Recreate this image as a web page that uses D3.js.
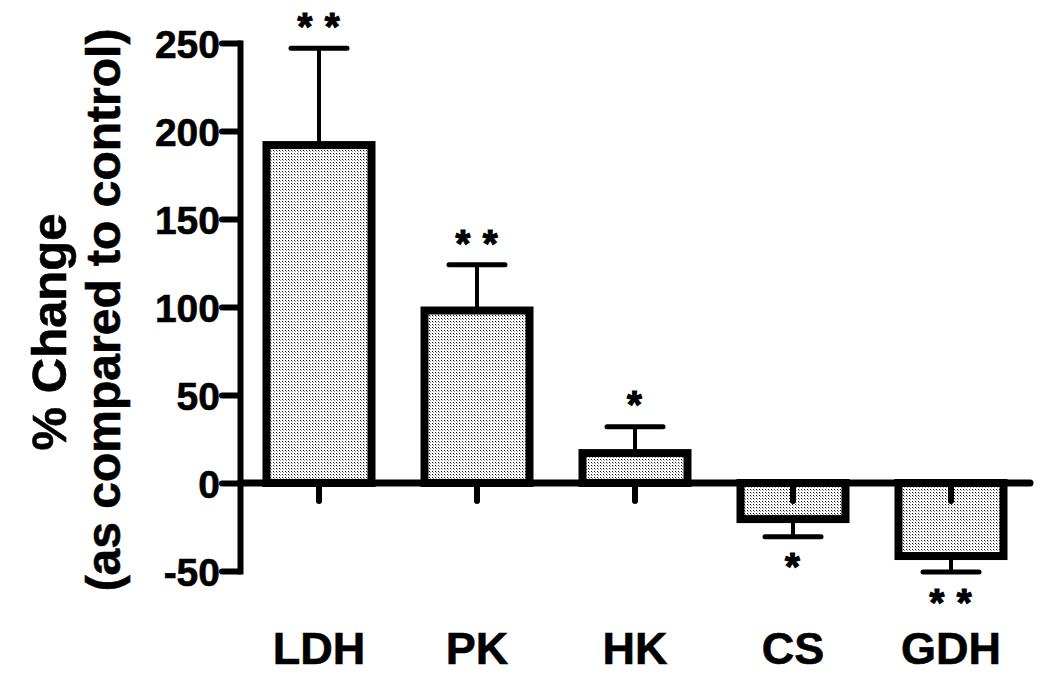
<!DOCTYPE html>
<html>
<head>
<meta charset="utf-8">
<script src="https://cdn.jsdelivr.net/npm/d3@7"></script>
<style>
  body { margin: 0; background: #fff; }
  text { font-family: "Liberation Sans", Arial, sans-serif; font-weight: bold; fill: #000; }
</style>
</head>
<body>
<div id="chart"></div>
<script>
// enzyme activity, % change vs control
var enzymes = ["LDH", "PK", "HK", "CS", "GDH"];
var change = [192, 98, 17, -20.5, -41.5];
var sem = [55, 26, 15, 10, 9];
var signif = ["* *", "* *", "*", "*", "* *"];
var yTicks = [-50, 0, 50, 100, 150, 200, 250];

var width = 1050,
   height = 685;

var x = d3.scaleBand()
   .domain(enzymes)
   .range([240, 1030]);

var y = d3.scaleLinear()
   .domain([-50, 250])
   .range([571, 43]);

var barW = 105;

var svg = d3.select("#chart").append("svg")
   .attr("width", width)
   .attr("height", height);

// dotted fill like the original print
var pat = svg.append("defs").append("pattern")
   .attr("id", "dots")
   .attr("patternUnits", "userSpaceOnUse")
   .attr("width", 3)
   .attr("height", 3);
pat.append("rect").attr("width", 3).attr("height", 3).attr("fill", "#fff");
pat.append("rect").attr("x", 0).attr("y", 0).attr("width", 1).attr("height", 1).attr("fill", "#111");
pat.append("rect").attr("x", 1).attr("y", 1).attr("width", 1).attr("height", 1).attr("fill", "#999");

var data = enzymes.map(function(d, i) {
   return {name: d, v: change[i], e: sem[i], s: signif[i]};
});

function cx(d) { return x(d.name) + x.bandwidth() / 2; }
function tip(d) { return d.v >= 0 ? d.v + d.e : d.v - d.e; }

// error bars (one-sided, away from zero)
var eb = svg.append("g");
eb.selectAll("line.stem")
   .data(data)
   .enter().append("line")
   .attr("x1", cx).attr("x2", cx)
   .attr("y1", function(d) { return y(d.v); })
   .attr("y2", function(d) { return y(tip(d)); })
   .attr("stroke", "#000")
   .attr("stroke-width", 4);
eb.selectAll("line.cap")
   .data(data)
   .enter().append("line")
   .attr("x1", function(d) { return cx(d) - 28; })
   .attr("x2", function(d) { return cx(d) + 28; })
   .attr("y1", function(d) { return y(tip(d)); })
   .attr("y2", function(d) { return y(tip(d)); })
   .attr("stroke", "#000")
   .attr("stroke-width", 5)
   .attr("stroke-linecap", "round");

// bars
svg.append("g").selectAll("rect")
   .data(data)
   .enter().append("rect")
   .attr("x", function(d) { return cx(d) - barW / 2; })
   .attr("width", barW)
   .attr("y", function(d) { return y(Math.max(0, d.v)); })
   .attr("height", function(d) { return Math.abs(y(d.v) - y(0)); })
   .attr("fill", "url(#dots)")
   .attr("stroke", "#000")
   .attr("stroke-width", 8);

// y axis
var yAxis = svg.append("g")
   .attr("transform", "translate(240,0)")
   .call(d3.axisLeft(y).tickValues(yTicks).tickSizeInner(18).tickSizeOuter(0).tickPadding(2)
      .tickFormat(function(d) { return String(d); }));
yAxis.attr("font-family", null);
yAxis.select(".domain")
   .attr("stroke", "#000")
   .attr("stroke-width", 6)
   .attr("stroke-linecap", "square");
yAxis.selectAll(".tick line")
   .attr("stroke", "#000")
   .attr("stroke-width", 6)
   .attr("stroke-linecap", "round");
yAxis.selectAll(".tick text")
   .attr("font-size", 39)
   .attr("dy", "0.36em")
   .attr("stroke", "#000")
   .attr("stroke-width", 0.6);

// x axis at zero
var xAxis = svg.append("g")
   .attr("transform", "translate(0," + y(0) + ")")
   .call(d3.axisBottom(x).tickSizeInner(18).tickSizeOuter(0).tickFormat(""));
xAxis.select(".domain").remove();
xAxis.append("line")
   .attr("x1", 240).attr("x2", 1030)
   .attr("stroke", "#000")
   .attr("stroke-width", 7)
   .attr("stroke-linecap", "round");
xAxis.selectAll(".tick line")
   .attr("stroke", "#000")
   .attr("stroke-width", 6)
   .attr("stroke-linecap", "round");

// category labels
svg.append("g").selectAll("text")
   .data(data)
   .enter().append("text")
   .attr("x", cx)
   .attr("y", 664)
   .attr("text-anchor", "middle")
   .attr("font-size", 45)
   .attr("stroke", "#000")
   .attr("stroke-width", 0.6)
   .text(function(d) { return d.name; });

// significance marks
svg.append("g").selectAll("text")
   .data(data)
   .enter().append("text")
   .attr("x", cx)
   .attr("y", function(d) { return d.v >= 0 ? y(tip(d)) - 28 : y(tip(d)) + 24; })
   .attr("dy", "0.52em")
   .attr("text-anchor", "middle")
   .attr("font-size", 38)
   .attr("letter-spacing", 1)
   .attr("stroke", "#000")
   .attr("stroke-width", 1.2)
   .text(function(d) { return d.s; });

// y title
svg.append("text")
   .attr("transform", "translate(66,332) rotate(-90)")
   .attr("text-anchor", "middle")
   .attr("font-size", 49)
   .attr("stroke", "#000")
   .attr("stroke-width", 0.6)
   .text("% Change");
svg.append("text")
   .attr("transform", "translate(120,310) rotate(-90)")
   .attr("text-anchor", "middle")
   .attr("font-size", 48)
   .attr("stroke", "#000")
   .attr("stroke-width", 0.6)
   .text("(as compared to control)");
</script>
</body>
</html>
